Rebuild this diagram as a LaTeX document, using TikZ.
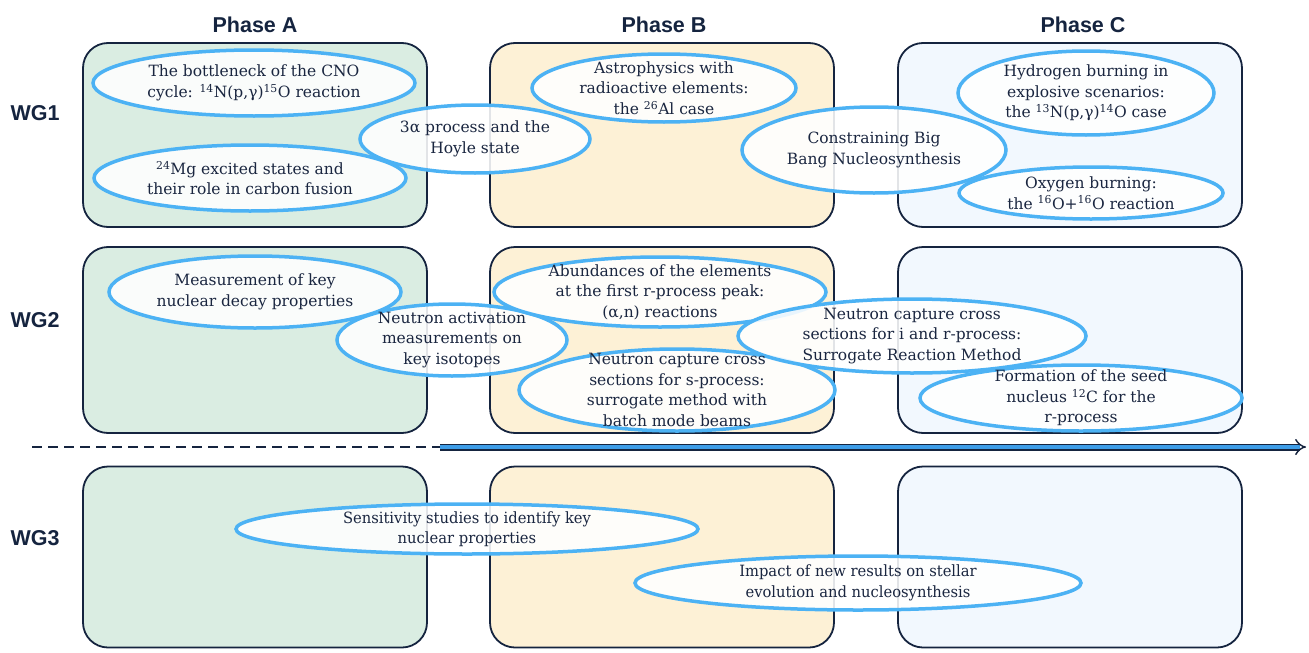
\documentclass[tikz,border=0pt]{standalone}
\usepackage{fontspec}
\setmainfont{DejaVu Serif}
\setsansfont{Liberation Sans}
\newfontfamily\narrowserif[FakeStretch=0.95]{DejaVu Serif}
\usetikzlibrary{shapes.geometric,arrows.meta}
\definecolor{navy}{HTML}{15243F}
\definecolor{inkblue}{HTML}{1A2640}
\definecolor{ringblue}{HTML}{4CB2F4}
\definecolor{barblue}{HTML}{3D9DE8}
\definecolor{phaseA}{HTML}{DAEDE2}
\definecolor{phaseB}{HTML}{FDF1D6}
\definecolor{phaseC}{HTML}{F2F8FE}

\begin{document}
\begin{tikzpicture}[x=1pt,y=-1pt,
      phase box/.style={draw=navy,line width=1.8pt,rounded corners=25pt,
        minimum width=344pt,minimum height=184pt,inner sep=0pt},
      head node/.style={font=\sffamily\bfseries\fontsize{21.5}{24}\selectfont,text=navy},
      topic/.style={ellipse,draw=ringblue,line width=3.5pt,fill=white,
        fill opacity=0.88,inner sep=0pt},
      topic text/.style={align=center,text=inkblue,inner sep=0pt,
        font=\fontsize{15.5}{20.5}\selectfont}]
    \useasboundingbox (0,0) rectangle (1309,653);

    % column and row heads
    \node[head node] (PA) at (255,25) {Phase A};
    \node[head node] (PB) at (664,25) {Phase B};
    \node[head node] (PC) at (1083,25) {Phase C};
    \node[head node] (WG1) at (35,113) {WG1};
    \node[head node] (WG2) at (35,320) {WG2};
    \node[head node] (WG3) at (35,538) {WG3};

    % phase boxes
    \node[phase box,fill=phaseA] (A1) at (255,135) {};
    \node[phase box,fill=phaseB] (B1) at (662,135) {};
    \node[phase box,fill=phaseC] (C1) at (1070,135) {};
    \node[phase box,fill=phaseA,minimum height=186pt] (A2) at (255,340) {};
    \node[phase box,fill=phaseB,minimum height=186pt] (B2) at (662,340) {};
    \node[phase box,fill=phaseC,minimum height=186pt] (C2) at (1070,340) {};
    \node[phase box,fill=phaseA,minimum height=181pt] (A3) at (255,557) {};
    \node[phase box,fill=phaseB,minimum height=181pt] (B3) at (662,557) {};
    \node[phase box,fill=phaseC,minimum height=181pt] (C3) at (1070,557) {};

    % time line
    \coordinate (dash start) at (32,447);
    \coordinate (bar start) at (440,447);
    \coordinate (bar end) at (1306,447);
    \draw[navy,line width=2.2pt,dash pattern=on 10pt off 6pt] (dash start) -- (bar start);
    \draw[draw=navy,line width=1.4pt,double=barblue,double distance=4.2pt,-{Implies}]
         (bar start) -- (bar end);

    % WG1
    \node[topic,minimum width=322pt,minimum height=66pt] (cno) at (254,83) {};
    \node[topic,minimum width=312pt,minimum height=66pt] (mg) at (250,178) {};
    \node[topic,minimum width=230pt,minimum height=68pt] (hoyle) at (475,139) {};
    \node[topic,minimum width=264pt,minimum height=68pt] (al) at (664,88) {};
    \node[topic,minimum width=264pt,minimum height=86pt] (bbn) at (874,150) {};
    \node[topic,minimum width=256pt,minimum height=84pt] (hburn) at (1086,93) {};
    \node[topic,minimum width=264pt,minimum height=52pt] (oburn) at (1091,193) {};
    % WG2
    \node[topic,minimum width=292pt,minimum height=72pt] (decay) at (255,292) {};
    \node[topic,minimum width=230pt,minimum height=72pt] (activ) at (452,340) {};
    \node[topic,minimum width=332pt,minimum height=70pt] (abund) at (660,292) {};
    \node[topic,minimum width=316pt,minimum height=82pt] (scap) at (677,390) {};
    \node[topic,minimum width=348pt,minimum height=74pt] (icap) at (912,336) {};
    \node[topic,minimum width=322pt,minimum height=66pt] (seed) at (1081,398) {};
    % WG3
    \node[topic,minimum width=462pt,minimum height=50pt] (sens) at (467,529) {};
    \node[topic,minimum width=446pt,minimum height=54pt] (impact) at (858,583) {};

    \node[topic text] (cno-t) at (cno) {The bottleneck of the CNO\\cycle: \textsuperscript{14}N(p,γ)\textsuperscript{15}O reaction};
    \node[topic text] (mg-t) at (mg) {\textsuperscript{24}Mg excited states and\\their role in carbon fusion};
    \node[topic text] (hoyle-t) at (hoyle) {3α process and the\\Hoyle state};
    \node[topic text] (al-t) at (al) {Astrophysics with\\radioactive elements:\\the \textsuperscript{26}Al case};
    \node[topic text] (bbn-t) at (bbn) {Constraining Big\\Bang Nucleosynthesis};
    \node[topic text] (hburn-t) at (hburn) {Hydrogen burning in\\explosive scenarios:\\the \textsuperscript{13}N(p,γ)\textsuperscript{14}O case};
    \node[topic text] (oburn-t) at (oburn) {Oxygen burning:\\the \textsuperscript{16}O+\textsuperscript{16}O reaction};
    \node[topic text] (decay-t) at (decay) {Measurement of key\\nuclear decay properties};
    \node[topic text] (activ-t) at (activ) {Neutron activation\\measurements on\\key isotopes};
    \node[topic text] (abund-t) at (abund) {Abundances of the elements\\at the first r-process peak:\\(α,n) reactions};
    \node[topic text] (scap-t) at (scap) {Neutron capture cross\\sections for s-process:\\surrogate method with\\batch mode beams};
    \node[topic text] (icap-t) at (icap) {Neutron capture cross\\sections for i and r-process:\\Surrogate Reaction Method};
    \node[topic text] (seed-t) at (seed) {Formation of the seed\\nucleus \textsuperscript{12}C for the\\r-process};
    \node[topic text,font=\narrowserif\fontsize{15.5}{20.5}\selectfont] (sens-t) at (sens) {Sensitivity studies to identify key\\nuclear properties};
    \node[topic text,font=\narrowserif\fontsize{15.5}{20.5}\selectfont] (impact-t) at (impact) {Impact of new results on stellar\\evolution and nucleosynthesis};
\end{tikzpicture}
\end{document}
